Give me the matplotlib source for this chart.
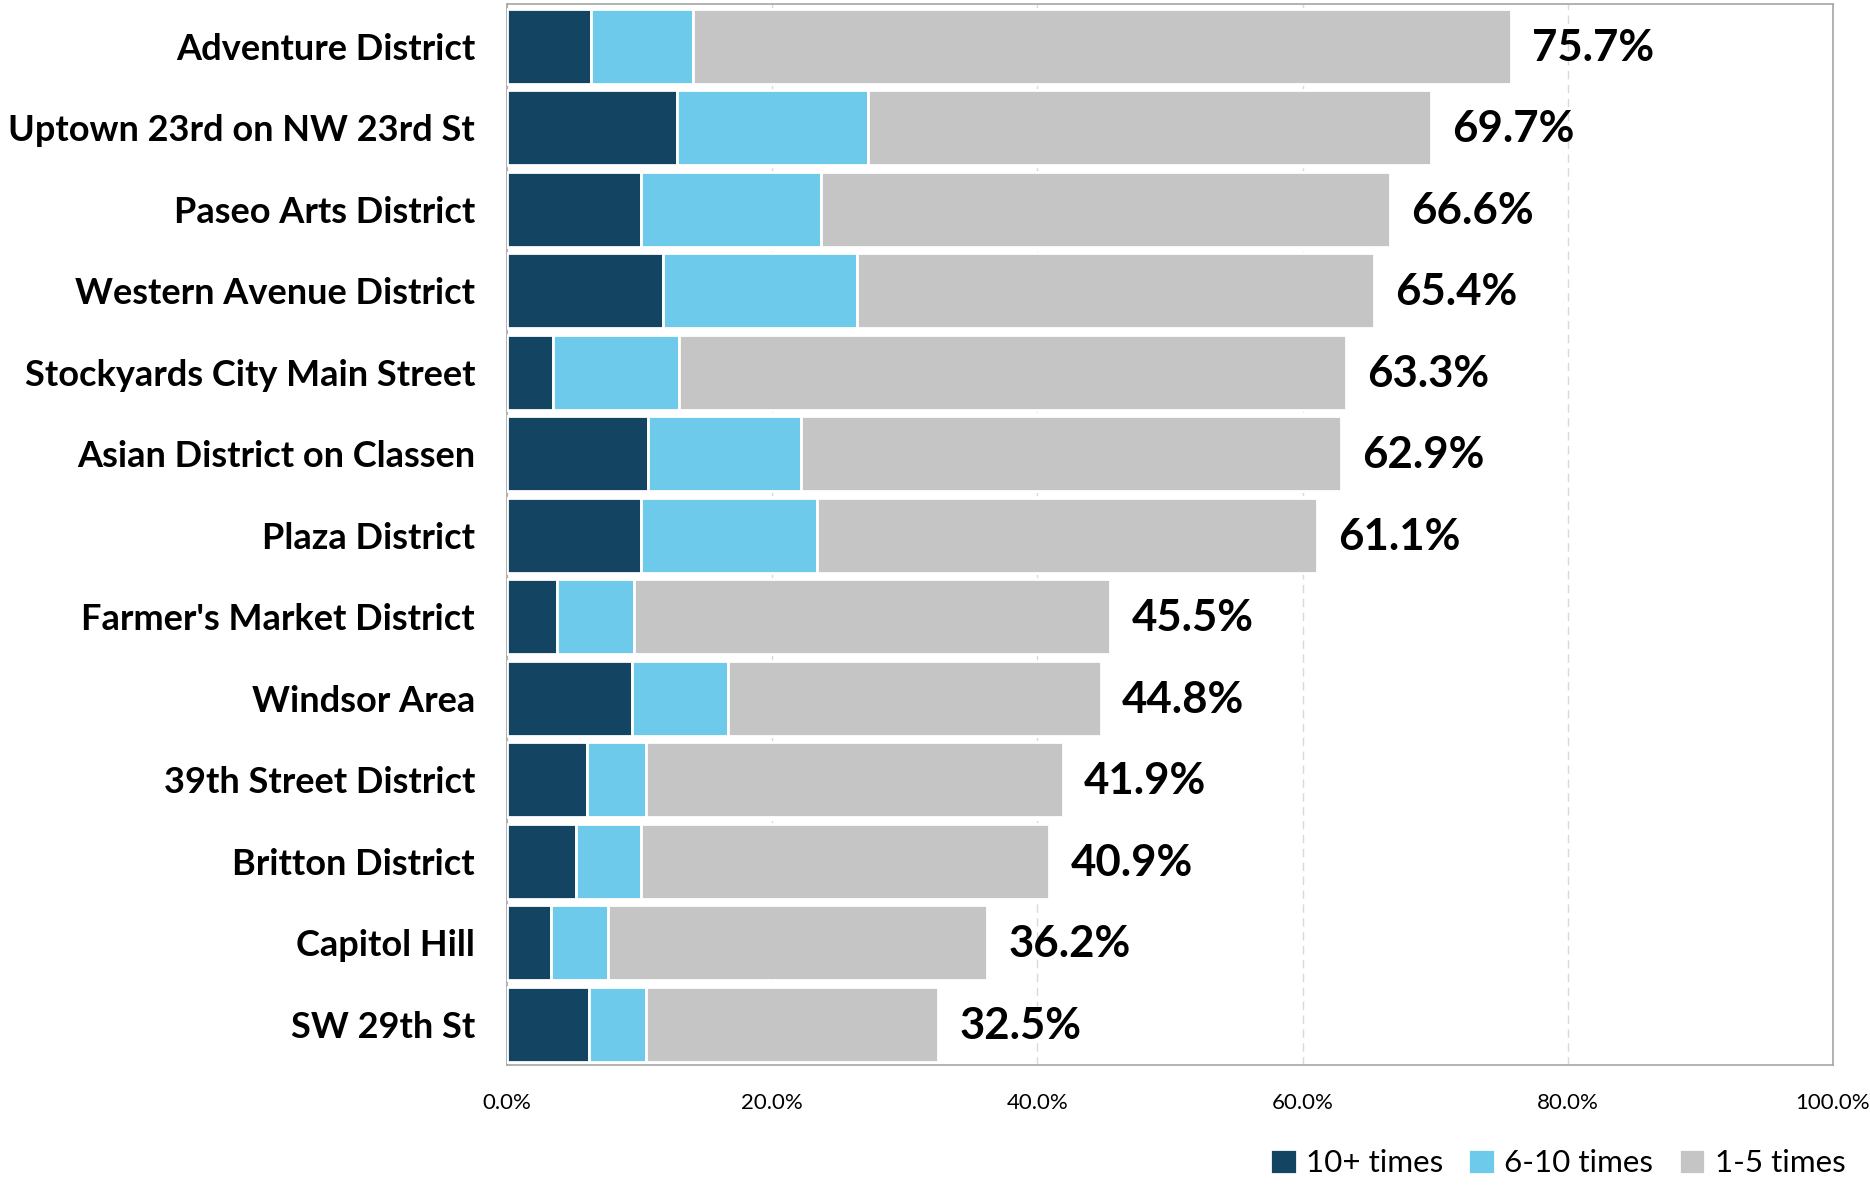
import numpy as np
import matplotlib
matplotlib.use("Agg")
import matplotlib.pyplot as plt
from matplotlib.ticker import PercentFormatter

plt.rcParams['font.family'] = ['Lato', 'DejaVu Sans']

### Data ###
districts = ["Adventure District", "Uptown 23rd on NW 23rd St", "Paseo Arts District",
             "Western Avenue District", "Stockyards City Main Street", "Asian District on Classen",
             "Plaza District", "Farmer's Market District", "Windsor Area", "39th Street District",
             "Britton District", "Capitol Hill", "SW 29th St"]
ten_plus = [6.3, 12.8, 10.1, 11.8, 3.5, 10.6, 10.1, 3.8, 9.4, 6.0, 5.2, 3.3, 6.2]
six_ten = [7.7, 14.4, 13.6, 14.6, 9.5, 11.6, 13.3, 5.8, 7.3, 4.5, 4.9, 4.3, 4.3]
totals = [75.7, 69.7, 66.6, 65.4, 63.3, 62.9, 61.1, 45.5, 44.8, 41.9, 40.9, 36.2, 32.5]
series_names = ["10+ times", "6-10 times", "1-5 times"]
colors = ["#134563", "#6DCAEA", "#C5C5C5"]

### Plot ###
ten_plus = np.array(ten_plus)
six_ten = np.array(six_ten)
totals = np.array(totals)
one_five = totals - ten_plus - six_ten
y = np.arange(len(districts))

fig = plt.figure(figsize=(18.7, 11.85), dpi=100)
ax = fig.add_axes([507/1870, 1 - 1065/1185, (1833-507)/1870, (1065-4)/1185])

left = np.zeros(len(districts))
for vals, name, c in zip([ten_plus, six_ten, one_five], series_names, colors):
    ax.barh(y, vals, left=left, height=0.92, color=c, edgecolor="white", linewidth=2,
            label=name, zorder=3)
    left = left + vals

for yi, t in zip(y, totals):
    ax.text(t + 1.6, yi + 0.02, f"{t:.1f}%", va="center", ha="left", fontsize=31.5,
            fontweight="bold", zorder=4)

ax.set_xlim(0, 100)
ax.set_ylim(len(districts) - 0.5, -0.52)
ax.set_xticks(np.arange(0, 101, 20))
ax.xaxis.set_major_formatter(PercentFormatter(decimals=1))
ax.set_yticks(y)
ax.set_yticklabels(districts, fontsize=26, fontweight="bold")
ax.tick_params(axis="x", labelsize=16, length=0, pad=20)
ax.tick_params(axis="y", length=0, pad=23)
ax.grid(axis="x", color="#D9D9D9", linestyle=(0, (6, 4)), linewidth=1, zorder=0)
for s in ax.spines.values():
    s.set_color("#A6A6A6")
    s.set_linewidth(1.2)

ax.legend(loc="lower right", bbox_to_anchor=(1858/1870, -0.004), bbox_transform=fig.transFigure,
          ncol=3, frameon=False, fontsize=22.6, handlelength=0.85, handleheight=0.85,
          handletextpad=0.3, columnspacing=0.8, borderaxespad=0)

fig.savefig("out.png", dpi=100)
